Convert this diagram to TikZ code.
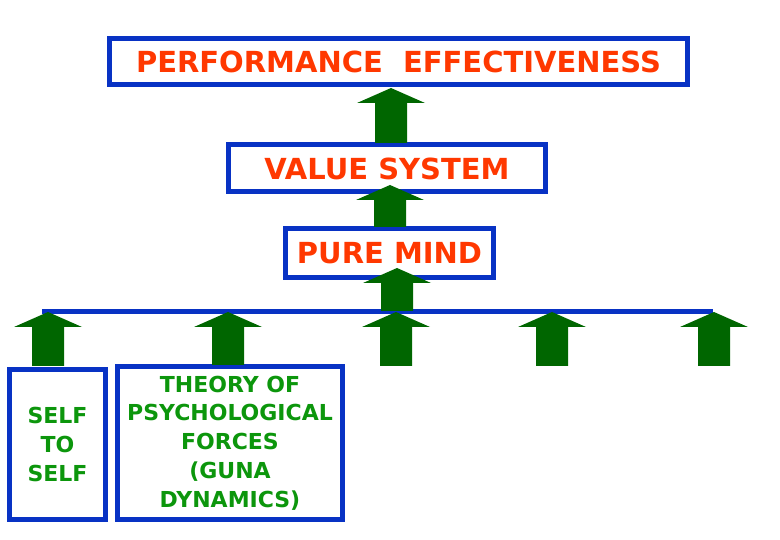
\documentclass[tikz,border=0pt]{standalone}
\usepackage{fontspec}
\setmainfont{DejaVu Sans}
\definecolor{boxblue}{RGB}{8,50,196}
\definecolor{redtxt}{RGB}{255,56,0}
\definecolor{arrgreen}{RGB}{0,102,0}
\definecolor{greentxt}{RGB}{12,150,12}
\newcommand\blkarrow[3]{%
  \fill[arrgreen] (#1-34,#2+15) -- (#1,#2) -- (#1+34,#2+15) -- (#1+16,#2+15)
   -- (#1+16,#3) -- (#1-16,#3) -- (#1-16,#2+15) -- cycle;}
\begin{document}
\begin{tikzpicture}[x=1pt,y=-1pt,
  bx/.style={draw=boxblue,line width=5pt,fill=white,inner sep=0pt,align=center,font=\bfseries},
  redbox/.style={bx,text=redtxt,font=\fontsize{29}{33}\selectfont\bfseries},
  greenbox/.style={bx,text=greentxt,font=\fontsize{22}{28.8}\selectfont\bfseries}]
\useasboundingbox (0,0) rectangle (780,540);
\node[redbox,minimum width=578pt,minimum height=46pt] (perf) at (398.5,61.5) {PERFORMANCE\ \ EFFECTIVENESS};
\node[redbox,minimum width=317pt,minimum height=47pt] (val) at (387,168.5) {VALUE SYSTEM};
\node[redbox,minimum width=208pt,minimum height=49pt] (mind) at (389.5,253) {PURE MIND};
\node[greenbox,minimum width=96pt,minimum height=150pt] (self) at (57.5,444.5) {SELF\\TO\\SELF};
\node[greenbox,minimum width=225pt,minimum height=153pt] (guna) at (230,443) {THEORY OF\\PSYCHOLOGICAL\\FORCES\\(GUNA\\DYNAMICS)};
\coordinate (barL) at (42,312);
\coordinate (barR) at (713,312);
\draw[boxblue,line width=5pt] (barL) -- (barR);
\blkarrow{391}{88}{143}
\blkarrow{390}{185}{227}
\blkarrow{397}{268}{311}
\blkarrow{48}{312}{366}
\blkarrow{228}{312}{365}
\blkarrow{396}{312}{366}
\blkarrow{552}{312}{366}
\blkarrow{714}{312}{366}
\end{tikzpicture}
\end{document}
